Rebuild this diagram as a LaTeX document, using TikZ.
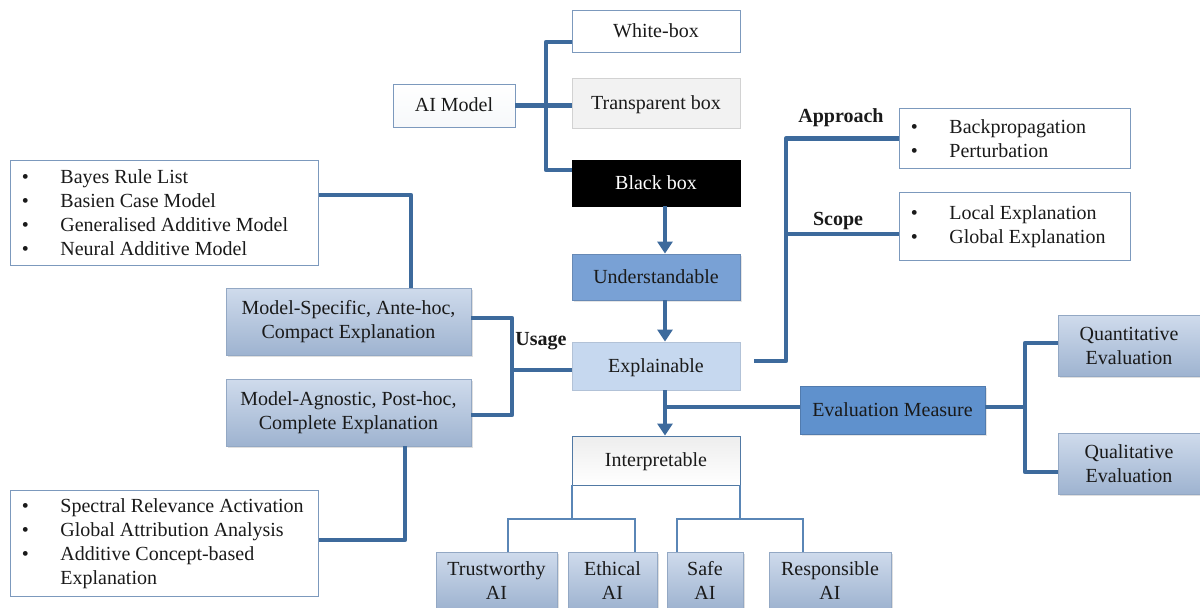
\documentclass[tikz,border=0pt]{standalone}
\usepackage{fontspec}
\setmainfont{Liberation Serif}
\usetikzlibrary{arrows.meta,shadows}
\definecolor{ln}{HTML}{3D6A9C}
\definecolor{thinln}{HTML}{5A86B6}
\definecolor{bd}{HTML}{7C99BD}
\definecolor{gbd}{HTML}{93A8C4}
\definecolor{gtop}{HTML}{CFDBEC}
\definecolor{gbot}{HTML}{9EB3D0}
\definecolor{undfill}{HTML}{79A1D5}
\definecolor{evalfill}{HTML}{5F91CD}
\definecolor{explfill}{HTML}{C6D8EF}
\definecolor{tbfill}{HTML}{F2F2F2}
\definecolor{tbbd}{HTML}{D2D2D2}
\definecolor{txt}{HTML}{1A1A1A}
\newcommand{\lbul}{\makebox[50pt][l]{\hspace*{11.5pt}\textbullet}}
\newcommand{\lgap}{\makebox[50pt]{}}
\begin{document}
\begin{tikzpicture}[x=1pt,y=-1pt,
  font=\fontsize{20}{24}\selectfont, text=txt,
  box/.style={draw=bd, line width=0.9pt, fill=white, inner sep=0pt, align=center, minimum width=168pt},
  one/.style={text height=14pt, text depth=2pt},
  gbox/.style={box, draw=gbd, top color=gtop, bottom color=gbot,
     drop shadow={shadow xshift=1.5pt, shadow yshift=-1.5pt, opacity=0.25}},
  listbox/.style={draw=bd, line width=0.9pt, fill=white, anchor=north west, inner xsep=0pt, inner ysep=0pt, align=flush left},
  thk/.style={draw=ln, line width=4.5pt, line join=round},
  thn/.style={draw=thinln, line width=2pt},
  arr/.style={thk, -{Triangle[width=15pt,length=12pt]}},
  lab/.style={font=\fontsize{20}{24}\selectfont\bfseries, inner sep=0pt}
]
\useasboundingbox (0,0) rectangle (1200,608);
\fill[white] (0,0) rectangle (1200,608);

% helper coordinates
\coordinate (tr) at (546,0);
\coordinate (c42) at (0,42);
\coordinate (c170) at (0,170);
\coordinate (ax) at (665,0);
\coordinate (c407) at (0,407);
\coordinate (ur) at (786,0);
\coordinate (c234) at (0,234);
\coordinate (xst) at (754,361);
\coordinate (er) at (1025,0);
\coordinate (c343) at (0,343);
\coordinate (c472) at (0,472);
\coordinate (us) at (512,0);
\coordinate (c318) at (0,318);
\coordinate (c415) at (0,415);
\coordinate (c370) at (0,370);
\coordinate (l1x) at (411,0);
\coordinate (c195) at (0,195);
\coordinate (l2x) at (405,0);
\coordinate (c540) at (0,540);
\coordinate (c519) at (0,519);
\coordinate (b1) at (508,0);
\coordinate (b2) at (635,0);
\coordinate (b3) at (677,0);
\coordinate (b4) at (803,0);

% nodes
\node[box, one, minimum height=42pt] (wb) at (656,31) {White-box};
\node[box, one, minimum width=122pt, minimum height=43pt, top color=white, bottom color=white!93!bd] (aim) at (454,105.5) {AI Model};
\node[box, one, draw=tbbd, fill=tbfill, minimum height=50pt] (tb) at (656,103) {Transparent box};
\node[box, one, draw=black, fill=black, text=white, minimum height=46pt] (bb) at (656,183) {Black box};
\node[box, one, draw=undfill!85!black, fill=undfill, minimum height=46pt,
     drop shadow={shadow xshift=1.5pt, shadow yshift=-1.5pt, opacity=0.2}] (und) at (656,277) {Understandable};
\node[box, one, draw=explfill!90!black, fill=explfill, minimum height=48pt] (expl) at (656,366) {Explainable};
\node[box, one, draw=thinln!90!black, top color=white!93!black, bottom color=white, minimum height=49pt] (interp) at (656,460.5) {Interpretable};
\node[box, one, draw=evalfill!85!black, fill=evalfill, minimum width=185pt, minimum height=48pt,
     drop shadow={shadow xshift=1.5pt, shadow yshift=-1.5pt, opacity=0.2}] (eval) at (892.5,410) {Evaluation Measure};
\node[gbox, minimum width=142pt, minimum height=61pt] (quant) at (1129,346) {Quantitative\\Evaluation};
\node[gbox, minimum width=142pt, minimum height=61pt] (qual) at (1129,463.5) {Qualitative\\Evaluation};
\node[gbox, minimum width=245pt, minimum height=67pt] (ms) at (348.5,321.5) {Model-Specific, Ante-hoc,\\Compact Explanation};
\node[gbox, minimum width=245pt, minimum height=67pt] (ma) at (348.5,412.5) {Model-Agnostic, Post-hoc,\\Complete Explanation};

\node[listbox, text width=308pt, minimum height=105pt] (l1) at (10,160)
  {\lbul Bayes Rule List\\\lbul Basien Case Model\\\lbul Generalised Additive Model\\\lbul Neural Additive Model};
\node[listbox, text width=308pt, minimum height=106pt] (l2) at (10,490)
  {\lbul Spectral Relevance Activation\\\lbul Global Attribution Analysis\\\lbul Additive Concept-based\\\lgap Explanation};
\node[listbox, text width=231pt, minimum height=60pt] (appr) at (899,108)
  {\lbul Backpropagation\\\lbul Perturbation};
\node[listbox, text width=231pt, minimum height=68pt] (scope) at (899,192)
  {\lbul Local Explanation\\\lbul Global Explanation};

\node[gbox, minimum width=121pt, minimum height=57pt] (trust) at (496.5,580.5) {Trustworthy\\AI};
\node[gbox, minimum width=89pt, minimum height=57pt] (eth) at (612.5,580.5) {Ethical\\AI};
\node[gbox, minimum width=76pt, minimum height=57pt] (safe) at (705,580.5) {Safe\\AI};
\node[gbox, minimum width=122pt, minimum height=57pt] (resp) at (830,580.5) {Responsible\\AI};

\node[lab] (usage) at (541,341) {Usage};
\node[lab] (applab) at (841,118) {Approach};
\node[lab] (scolab) at (838,221) {Scope};

% connectors
\draw[thk] (wb.west|-c42) -| (tr|-c170) -- (bb.west|-c170);
\draw[thk] (aim.east) -- (aim.east-|tb.west);
\draw[arr] (bb.south-|ax) -- (und.north-|ax);
\draw[arr] (und.south-|ax) -- (expl.north-|ax);
\draw[arr] (expl.south-|ax) -- (interp.north-|ax);
\draw[thk] (eval.west|-c407) -- (ax|-c407);
\draw[thk] (xst) -| (ur|-appr.west) -- (appr.west);
\draw[thk] (ur|-c234) -- (scope.west|-c234);
\draw[thk] (eval.east|-c407) -- (er|-c407);
\draw[thk] (quant.west|-c343) -| (er|-c472) -- (qual.west|-c472);
\draw[thk] (ms.east|-c318) -| (us|-c415) -- (ma.east|-c415);
\draw[thk] (us|-c370) -- (expl.west|-c370);
\draw[thk] (l1.east|-c195) -| (ms.north-|l1x);
\draw[thk] (ma.south-|l2x) |- (l2.east|-c540);

\draw[thn] (interp.south west) -- (interp.south west|-c519);
\draw[thn] (interp.south east) -- (interp.south east|-c519);
\draw[thn] (trust.north-|b1) |- (b2|-c519) -- (eth.north-|b2);
\draw[thn] (safe.north-|b3) |- (b4|-c519) -- (resp.north-|b4);
\end{tikzpicture}
\end{document}
